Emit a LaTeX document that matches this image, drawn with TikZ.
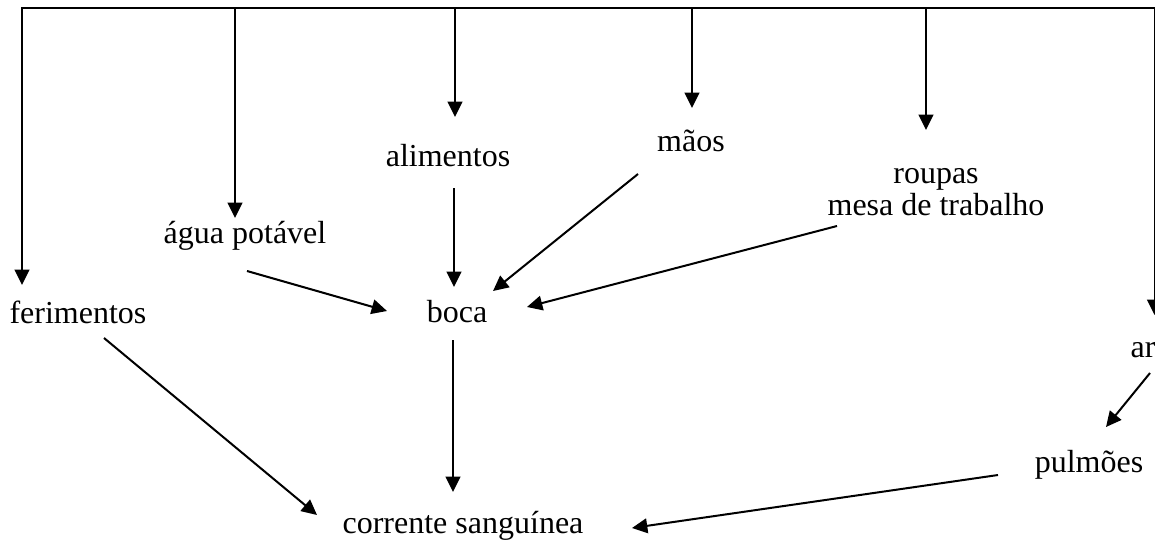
\documentclass[tikz,border=0pt]{standalone}
\usepackage{fontspec}
\setmainfont{Liberation Serif}
\usetikzlibrary{arrows.meta,calc}
\begin{document}
\begin{tikzpicture}[x=0.75pt,y=-0.75pt,
  lbl/.style={anchor=base,inner sep=0pt,font=\fontsize{24}{28}\selectfont},
  arr/.style={line width=1.5pt,-{Triangle[width=11pt,length=11.5pt]}},
  bar/.style={line width=1.5pt,line cap=rect}]
\useasboundingbox (0,0) rectangle (1155,542);
% labels
\node[lbl] (fer)  at (78,323)  {ferimentos};
\node[lbl] (agua) at (245,243) {água potável};
\node[lbl] (alim) at (448,166) {alimentos};
\node[lbl] (maos) at (691,151) {mãos};
\node[lbl] (roup) at (936,183) {roupas};
\node[lbl] (mesa) at (936,215) {mesa de trabalho};
\node[lbl] (boca) at (457,322) {boca};
\node[lbl] (ar)   at (1143,357) {ar};
\node[lbl] (pulm) at (1089,472) {pulmões};
\node[lbl] (corr) at (463,533) {corrente sanguínea};
% top bar
\coordinate (t1) at (22,8);
\coordinate (t2) at (235,8);
\coordinate (t3) at (455,8);
\coordinate (t4) at (692,8);
\coordinate (t5) at (926,8);
\coordinate (t6) at (1154.5,8);
\draw[bar] (t1) -- (t6);
\draw[arr] (t1) -- ($(fer.base)+(-56,-38)$);
\draw[arr] (t2) -- ($(agua.base)+(-10,-25)$);
\draw[arr] (t3) -- ($(alim.base)+(7,-49)$);
\draw[arr] (t4) -- ($(maos.base)+(1,-43)$);
\draw[arr] (t5) -- ($(roup.base)+(-10,-53)$);
\draw[arr] (t6) -- ($(ar.base)+(11.5,-42)$);
% into boca
\draw[arr] ($(alim.base)+(6,22)$) -- ($(boca.base)+(-3,-35)$);
\draw[arr] ($(maos.base)+(-53,23)$) -- ($(boca.base)+(36,-31)$);
\draw[arr] ($(agua.base)+(2,28)$) -- ($(boca.base)+(-70,-11)$);
\draw[arr] ($(mesa.base)+(-99,11)$) -- ($(boca.base)+(70,-15)$);
% into corrente
\draw[arr] ($(fer.base)+(26,15)$) -- ($(corr.base)+(-146,-18)$);
\draw[arr] ($(boca.base)+(-4,18)$) -- ($(corr.base)+(-10,-41)$);
\draw[arr] ($(pulm.base)+(-91,3)$) -- ($(corr.base)+(169,-5)$);
% ar to pulmoes
\draw[arr] ($(ar.base)+(7,16)$) -- ($(pulm.base)+(17,-45)$);
\end{tikzpicture}
\end{document}
